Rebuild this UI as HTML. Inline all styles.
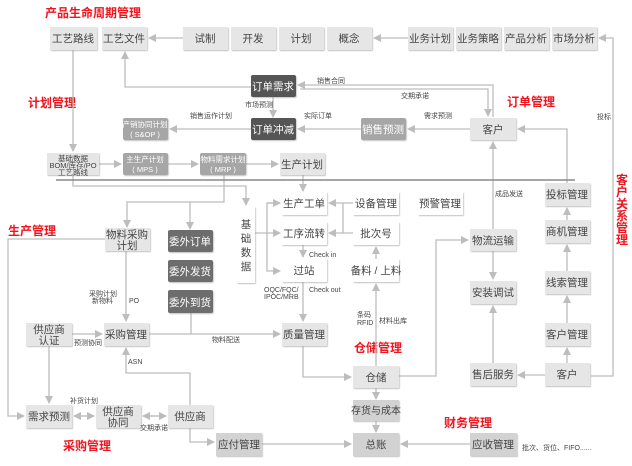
<!DOCTYPE html>
<html><head><meta charset="utf-8"><style>
html,body{margin:0;padding:0;background:#fff;width:632px;height:466px;overflow:hidden}
svg{display:block}
text{font-family:"Liberation Sans","Noto Sans CJK SC",sans-serif}
.b{font-size:10.5px;text-anchor:middle;fill:#444}
.w{font-size:10.5px;text-anchor:middle;fill:#fff}
.s{font-size:7px;fill:#444}
.r{font-size:12px;font-weight:bold;fill:#f0141e}
.ln{stroke:#bdbdbd;stroke-width:1.3;fill:none}
</style></head><body>
<svg width="632" height="466" viewBox="0 0 632 466" xmlns="http://www.w3.org/2000/svg">
<defs>
<marker id="a" markerWidth="8" markerHeight="8" refX="7" refY="4" orient="auto" markerUnits="userSpaceOnUse"><path d="M0,0 L8,4 L0,8 z" fill="#bdbdbd"/></marker>
<filter id="sh" x="-10%" y="-10%" width="130%" height="140%"><feDropShadow dx="0.8" dy="1" stdDeviation="0.6" flood-color="#999" flood-opacity="0.6"/></filter>
</defs>

<!-- red titles -->
<text class="r" x="45" y="17">产品生命周期管理</text>
<text class="r" x="28" y="107">计划管理</text>
<text class="r" x="507" y="106">订单管理</text>
<text class="r" x="8" y="235">生产管理</text>
<text class="r" x="354" y="352">仓储管理</text>
<text class="r" x="63" y="450">采购管理</text>
<text class="r" x="444" y="427">财务管理</text>
<g class="r" text-anchor="middle"><text x="622" y="184">客</text><text x="622" y="196">户</text><text x="622" y="208">关</text><text x="622" y="220">系</text><text x="622" y="232">管</text><text x="622" y="244">理</text></g>

<!-- lines -->
<g class="ln">
<path d="M183,38 H149" marker-end="url(#a)"/>
<path d="M408,38 H374" marker-end="url(#a)"/>
<path d="M591,376 H613 V38 H599" marker-end="url(#a)"/>
<path d="M251,87 H125 V52" marker-end="url(#a)"/>
<path d="M493,117 V85 H298" marker-end="url(#a)"/>
<path d="M300,89 H488 V116" marker-end="url(#a)"/>
<path d="M273,97 V117" marker-end="url(#a)"/>
<path d="M251,129 H170" marker-end="url(#a)"/>
<path d="M361,129 H298" marker-end="url(#a)"/>
<path d="M470,129 H408" marker-end="url(#a)"/>
<path d="M567,183 V129 H518" marker-end="url(#a)"/>
<path d="M73,50 V151" marker-end="url(#a)"/>
<path d="M99,164 H121" marker-end="url(#a)"/>
<path d="M168,164 H198" marker-end="url(#a)"/>
<path d="M246,164 H278" marker-end="url(#a)"/>
<path d="M73,175 V186 H246 V205" marker-end="url(#a)"/>
<path d="M224,175 V202 H127 V227" marker-end="url(#a)"/>
<path d="M190,202 V229" marker-end="url(#a)"/>
<path d="M303,175 V191" marker-end="url(#a)"/>
<path d="M353,203 H329" marker-end="url(#a)"/>
<path d="M343,203 V233"/>
<path d="M353,233 H329" marker-end="url(#a)"/>
<path d="M280,203 H267 V271 H280" marker-end="url(#a)"/>
<path d="M267,203 H280" marker-end="url(#a)"/>
<path d="M255,233 H280" marker-end="url(#a)"/>
<path d="M303,245 V257" marker-end="url(#a)"/>
<path d="M303,282 V321" marker-end="url(#a)"/>
<path d="M376,259 V247" marker-end="url(#a)"/>
<path d="M376,366 V284" marker-end="url(#a)"/>
<path d="M105,239 H8 V416 H24" marker-end="url(#a)"/>
<path d="M126,251 V321" marker-end="url(#a)"/>
<path d="M72,334 H102" marker-end="url(#a)"/>
<path d="M149,334 H280" marker-end="url(#a)"/>
<path d="M191,313 V334"/>
<path d="M190,405 V373 H126 V348" marker-end="url(#a)"/>
<path d="M49,346 V403" marker-end="url(#a)"/>
<path d="M74,416 H94" marker-end="url(#a)"/>
<path d="M94,416 H74" marker-end="url(#a)"/>
<path d="M143,416 H166" marker-end="url(#a)"/>
<path d="M166,416 H143" marker-end="url(#a)"/>
<path d="M190,428 V442 H214" marker-end="url(#a)"/>
<path d="M262,444 H351" marker-end="url(#a)"/>
<path d="M303,346 V377 H351" marker-end="url(#a)"/>
<path d="M376,388 V399" marker-end="url(#a)"/>
<path d="M376,421 V432" marker-end="url(#a)"/>
<path d="M470,444 H401" marker-end="url(#a)"/>
<path d="M399,376 H436 V240 H468" marker-end="url(#a)"/>
<path d="M493,229 V142" marker-end="url(#a)"/>
<path d="M493,251 V279" marker-end="url(#a)"/>
<path d="M493,363 V306" marker-end="url(#a)"/>
<path d="M545,375 H518" marker-end="url(#a)"/>
<path d="M567,363 V348" marker-end="url(#a)"/>
<path d="M567,323 V296" marker-end="url(#a)"/>
<path d="M567,271 V245" marker-end="url(#a)"/>
<path d="M567,220 V208" marker-end="url(#a)"/>
</g>
<path d="M56,180 H575" stroke="#888" stroke-width="1.5"/>

<!-- boxes -->
<g filter="url(#sh)">
<g fill="#e6e6e6">
<rect x="50" y="27" width="47" height="23"/><rect x="102" y="27" width="45" height="23"/>
<rect x="183" y="27" width="45" height="23"/><rect x="231" y="27" width="45" height="23"/>
<rect x="279" y="27" width="45" height="23"/><rect x="327" y="27" width="45" height="23"/>
<rect x="408" y="27" width="45" height="23"/><rect x="456" y="27" width="45" height="23"/>
<rect x="504" y="27" width="45" height="23"/><rect x="552" y="27" width="45" height="23"/>
<rect x="470" y="118" width="46" height="22"/>
<rect x="47" y="153" width="52" height="22"/><rect x="280" y="153" width="45" height="22"/>
<rect x="105" y="228" width="45" height="23"/>
<rect x="26" y="323" width="46" height="23"/><rect x="104" y="323" width="45" height="23"/>
<rect x="282" y="323" width="45" height="23"/>
<rect x="26" y="405" width="46" height="23"/><rect x="96" y="405" width="45" height="23"/>
<rect x="168" y="405" width="45" height="23"/>
<rect x="353" y="366" width="46" height="22"/>
<rect x="470" y="229" width="46" height="22"/><rect x="470" y="281" width="46" height="23"/>
<rect x="470" y="363" width="46" height="23"/><rect x="545" y="363" width="45" height="23"/>
<rect x="545" y="323" width="45" height="23"/><rect x="545" y="271" width="45" height="23"/>
<rect x="545" y="220" width="45" height="23"/><rect x="545" y="183" width="45" height="23"/>
</g>
<g fill="#d2d2d2">
<rect x="353" y="400" width="46" height="21"/><rect x="353" y="433" width="46" height="23"/>
<rect x="216" y="433" width="46" height="23"/><rect x="470" y="433" width="47" height="23"/>
</g>
<g fill="#fff">
<rect x="282" y="192" width="45" height="23"/><rect x="353" y="192" width="46" height="23"/>
<rect x="418" y="192" width="45" height="23"/><rect x="282" y="222" width="45" height="23"/>
<rect x="353" y="222" width="46" height="23"/><rect x="282" y="259" width="45" height="23"/>
<rect x="353" y="259" width="46" height="23"/><rect x="237" y="207" width="18" height="76"/>
</g>
<g fill="#555"><rect x="251" y="75" width="45" height="22" rx="2"/><rect x="251" y="118" width="45" height="22" rx="2"/></g>
<g fill="#6d6d6d"><rect x="168" y="230" width="45" height="22" rx="2"/><rect x="168" y="260" width="45" height="22" rx="2"/><rect x="168" y="290" width="45" height="23" rx="2"/></g>
<g fill="#a6a6a6"><rect x="361" y="118" width="45" height="22" rx="2"/><rect x="123" y="118" width="45" height="22" rx="2"/><rect x="123" y="153" width="45" height="22" rx="2"/><rect x="200" y="153" width="46" height="22" rx="2"/></g>
</g>

<!-- box text -->
<g class="b">
<text x="73" y="42">工艺路线</text><text x="124" y="42">工艺文件</text>
<text x="205" y="42">试制</text><text x="253" y="42">开发</text><text x="301" y="42">计划</text><text x="349" y="42">概念</text>
<text x="430" y="42">业务计划</text><text x="478" y="42">业务策略</text><text x="526" y="42">产品分析</text><text x="574" y="42">市场分析</text>
<text x="493" y="133">客户</text>
<text x="302" y="168">生产计划</text>
<text x="127" y="238">物料采购</text><text x="127" y="249">计划</text>
<text x="49" y="333">供应商</text><text x="49" y="344">认证</text>
<text x="126" y="338">采购管理</text><text x="304" y="338">质量管理</text>
<text x="49" y="420">需求预测</text>
<text x="118" y="415">供应商</text><text x="118" y="426">协同</text>
<text x="190" y="420">供应商</text>
<text x="376" y="381">仓储</text><text x="376" y="414" style="font-size:10px">存货与成本</text><text x="376" y="448">总账</text>
<text x="239" y="448">应付管理</text><text x="493" y="448">应收管理</text>
<text x="493" y="244">物流运输</text><text x="493" y="296">安装调试</text>
<text x="493" y="378">售后服务</text><text x="567" y="378">客户</text>
<text x="567" y="338">客户管理</text><text x="567" y="286">线索管理</text>
<text x="567" y="235">商机管理</text><text x="567" y="198">投标管理</text>
<text x="304" y="207">生产工单</text><text x="376" y="207">设备管理</text><text x="440" y="207">预警管理</text>
<text x="304" y="237">工序流转</text><text x="376" y="237">批次号</text>
<text x="304" y="274">过站</text><text x="376" y="274">备料 / 上料</text>
<text x="246" y="228">基</text><text x="246" y="242">础</text><text x="246" y="256">数</text><text x="246" y="270">据</text>
<text x="73" y="161" style="font-size:7.5px">基础数据</text><text x="73" y="168" style="font-size:7.5px">BOM/库存/PO</text><text x="73" y="175" style="font-size:7.5px">工艺路线</text>
</g>
<g class="w">
<text x="273" y="90">订单需求</text><text x="273" y="133">订单冲减</text>
<text x="383" y="133">销售预测</text>
<text x="190" y="245">委外订单</text><text x="190" y="275">委外发货</text><text x="190" y="306">委外到货</text>
<g style="font-size:7.5px"><text x="145" y="127">产销协同计划</text><text x="145" y="137">( S&amp;OP )</text>
<text x="145" y="162">主生产计划</text><text x="145" y="172">( MPS )</text>
<text x="223" y="162">物料需求计划</text><text x="223" y="172">( MRP )</text></g>
</g>

<!-- small labels -->
<g class="s">
<text x="317" y="83">销售合同</text><text x="401" y="98">交期承诺</text>
<text x="245" y="107">市场预测</text><text x="190" y="118">销售运作计划</text>
<text x="304" y="118">实际订单</text><text x="424" y="118">需求预测</text>
<text x="597" y="119">投标</text><text x="495" y="196">成品发送</text>
<text x="309" y="257">Check in</text><text x="309" y="292">Check out</text>
<text x="264" y="292">OQC/FQC/</text><text x="264" y="299">IPOC/MRB</text>
<text x="357" y="317">条码</text><text x="357" y="325">RFID</text><text x="379" y="323">材料出库</text>
<text x="89" y="296">采购计划</text><text x="92" y="303">新物料</text><text x="129" y="303">PO</text>
<text x="74" y="345">预测协同</text><text x="212" y="342">物料配送</text><text x="128" y="364">ASN</text>
<text x="70" y="403">补货计划</text><text x="140" y="430">交期承诺</text>
<text x="522" y="450">批次、货位、FIFO......</text>
</g>
</svg>
</body></html>
